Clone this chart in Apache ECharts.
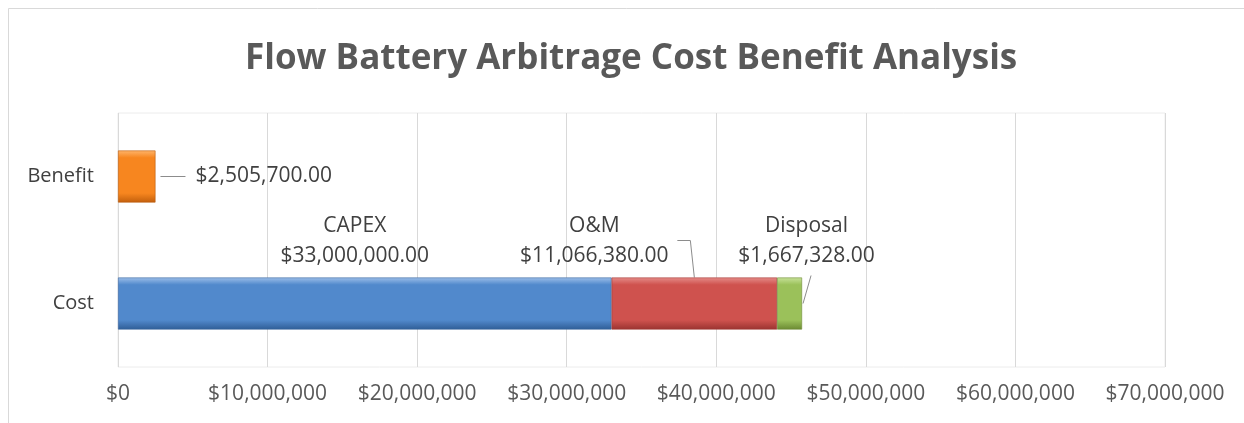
<!DOCTYPE html>
<html>
<head>
<meta charset="utf-8">
<script src="https://cdn.jsdelivr.net/npm/echarts@6/dist/echarts.min.js"></script>
<style>
html, body { margin: 0; padding: 0; background: #fff; }
#main { width: 1244px; height: 423px; }
</style>
</head>
<body>
<div id="main"></div>
<script>
// data
var categories = ['Cost', 'Benefit'];
var capex = [33000000, null];
var om = [11066380, null];
var disposal = [1667328, null];
var benefit = [null, 2505700];
var xTicks = [0, 10000000, 20000000, 30000000, 40000000, 50000000, 60000000, 70000000];

var font = '"Open Sans", "Liberation Sans", sans-serif';
var barW = 52;

function money(v, dec) {
	return '$' + Number(v).toLocaleString('en-US', {minimumFractionDigits: dec, maximumFractionDigits: dec});
}

//斜面效果渐变
function bevel(light, base, dark) {
	return new echarts.graphic.LinearGradient(0, 0, 0, 1, [
		{offset: 0, color: light},
		{offset: 0.14, color: base},
		{offset: 0.82, color: base},
		{offset: 1, color: dark}
	]);
}

var labelText = {
	color: '#404040',
	fontFamily: font,
	fontSize: 21,
	lineHeight: 30
};

function nameValue(p) { return p.seriesName + '\n' + money(p.value, 2); }

var chart = echarts.init(document.getElementById('main'));
chart.setOption({
	backgroundColor: '#fff',
	animation: false,
	title: {
		text: 'Flow Battery Arbitrage Cost Benefit Analysis',
		left: 240,
		top: 37,
		textStyle: {
			color: '#595959',
			fontFamily: font,
			fontWeight: 'bold',
			fontSize: 35
		}
	},
	grid: {
		left: 118,
		right: 79,
		top: 113,
		bottom: 56,
		show: true,
		borderColor: '#ececec',
		borderWidth: 1
	},
	xAxis: {
		type: 'value',
		min: xTicks[0],
		max: xTicks[xTicks.length - 1],
		interval: 10000000,
		axisLine: {show: false},
		axisTick: {show: false},
		splitLine: {show: true, lineStyle: {color: '#d9d9d9'}},
		axisLabel: {
			color: '#595959',
			fontFamily: font,
			fontSize: 21,
			margin: 17,
			formatter: function (v) { return money(v, 0); }
		}
	},
	yAxis: {
		type: 'category',
		data: categories,
		axisLine: {show: false},
		axisTick: {show: false},
		axisLabel: {
			color: '#404040',
			fontFamily: font,
			fontSize: 20,
			margin: 24
		}
	},
	series: [{
		name: 'CAPEX',
		type: 'bar',
		stack: 'a',
		barWidth: barW,
		data: capex,
		itemStyle: {color: bevel('#9dbfe9', '#5189cc', '#2f5d96'), borderColor: '#3a67a0', borderWidth: 0.6},
		label: Object.assign({show: true, position: 'top', distance: 6, offset: [-10, 0], formatter: nameValue}, labelText)
	}, {
		name: 'O&M',
		type: 'bar',
		stack: 'a',
		barWidth: barW,
		data: om,
		itemStyle: {color: bevel('#e58c89', '#cf524e', '#9a3330'), borderColor: '#a23a37', borderWidth: 0.6},
		label: Object.assign({show: true, position: 'top', distance: 6, offset: [-100, 0], formatter: nameValue}, labelText)
	}, {
		name: 'Disposal',
		type: 'bar',
		stack: 'a',
		barWidth: barW,
		data: disposal,
		itemStyle: {color: bevel('#c8e29a', '#9bc15a', '#6b8a33'), borderColor: '#6e8c36', borderWidth: 0.6},
		label: Object.assign({show: true, position: 'top', distance: 6, offset: [17, 0], formatter: nameValue}, labelText)
	}, {
		name: 'Benefit',
		type: 'bar',
		stack: 'a',
		barWidth: barW,
		data: benefit,
		itemStyle: {color: bevel('#ffb56b', '#f7861f', '#c25f0c'), borderColor: '#b95a0c', borderWidth: 0.6},
		label: Object.assign({show: true, position: 'right', distance: 40,
			formatter: function (p) { return money(p.value, 2); }}, labelText)
	}]
});

//引导线，用坐标轴换算位置
function leaderLine(points) {
	return {
		type: 'polyline',
		shape: {points: points},
		style: {stroke: '#8c8c8c', lineWidth: 1, fill: null},
		silent: true
	};
}

(function () {
	var capexEnd = chart.convertToPixel({gridIndex: 0}, [capex[0], categories[0]]);
	var omMid = chart.convertToPixel({gridIndex: 0}, [capex[0] + om[0] / 2, categories[0]]);
	var costEnd = chart.convertToPixel({gridIndex: 0}, [capex[0] + om[0] + disposal[0], categories[0]]);
	var benEnd = chart.convertToPixel({gridIndex: 0}, [benefit[1], categories[1]]);
	var barTop = capexEnd[1] - barW / 2;
	chart.setOption({
		graphic: [{
			type: 'rect',
			shape: {x: 8.5, y: 8.5, width: 1260, height: 440},
			style: {fill: null, stroke: '#d9d9d9', lineWidth: 1},
			silent: true
		},
		leaderLine([[benEnd[0] + 5, benEnd[1]], [benEnd[0] + 30, benEnd[1]]]),
		leaderLine([[omMid[0], barTop], [omMid[0] - 4, barTop - 37], [omMid[0] - 17, barTop - 37]]),
		leaderLine([[costEnd[0] + 1, costEnd[1]], [costEnd[0] + 9, barTop - 2]])
		]
	});
})();
</script>
</body>
</html>
